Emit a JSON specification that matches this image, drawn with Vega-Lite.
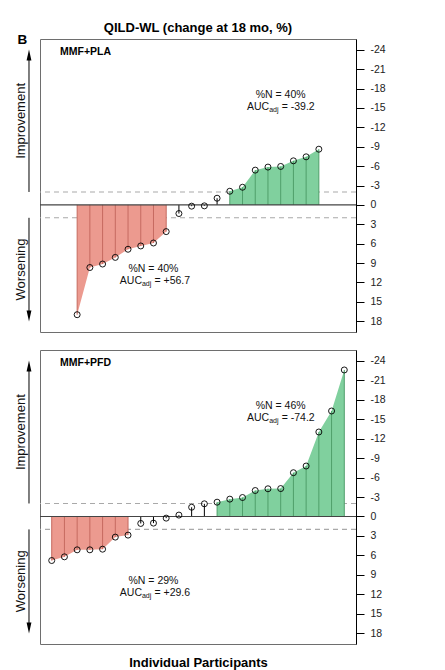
{
  "$schema": "https://vega.github.io/schema/vega-lite/v6.json",
  "padding": {"left": 14, "top": 21, "right": 5, "bottom": 4},
  "background": "white",
  "spacing": 16,
  "datasets": {
    "pts": [
      {"panel": "MMF+PLA", "i": 3, "change": 17.0, "group": "worse"},
      {"panel": "MMF+PLA", "i": 4, "change": 9.7, "group": "worse"},
      {"panel": "MMF+PLA", "i": 5, "change": 9.16, "group": "worse"},
      {"panel": "MMF+PLA", "i": 6, "change": 8.13, "group": "worse"},
      {"panel": "MMF+PLA", "i": 7, "change": 6.87, "group": "worse"},
      {"panel": "MMF+PLA", "i": 8, "change": 6.36, "group": "worse"},
      {"panel": "MMF+PLA", "i": 9, "change": 5.9, "group": "worse"},
      {"panel": "MMF+PLA", "i": 10, "change": 4.14, "group": "worse"},
      {"panel": "MMF+PLA", "i": 11, "change": 1.34, "group": "none"},
      {"panel": "MMF+PLA", "i": 12, "change": 0.2, "group": "none"},
      {"panel": "MMF+PLA", "i": 13, "change": 0.15, "group": "none"},
      {"panel": "MMF+PLA", "i": 14, "change": -1.03, "group": "none"},
      {"panel": "MMF+PLA", "i": 15, "change": -2.11, "group": "better"},
      {"panel": "MMF+PLA", "i": 16, "change": -2.73, "group": "better"},
      {"panel": "MMF+PLA", "i": 17, "change": -5.38, "group": "better"},
      {"panel": "MMF+PLA", "i": 18, "change": -5.85, "group": "better"},
      {"panel": "MMF+PLA", "i": 19, "change": -5.95, "group": "better"},
      {"panel": "MMF+PLA", "i": 20, "change": -6.82, "group": "better"},
      {"panel": "MMF+PLA", "i": 21, "change": -7.44, "group": "better"},
      {"panel": "MMF+PLA", "i": 22, "change": -8.62, "group": "better"},
      {"panel": "MMF+PFD", "i": 1, "change": 6.8, "group": "worse"},
      {"panel": "MMF+PFD", "i": 2, "change": 6.23, "group": "worse"},
      {"panel": "MMF+PFD", "i": 3, "change": 5.15, "group": "worse"},
      {"panel": "MMF+PFD", "i": 4, "change": 5.15, "group": "worse"},
      {"panel": "MMF+PFD", "i": 5, "change": 5.05, "group": "worse"},
      {"panel": "MMF+PFD", "i": 6, "change": 3.19, "group": "worse"},
      {"panel": "MMF+PFD", "i": 7, "change": 2.88, "group": "worse"},
      {"panel": "MMF+PFD", "i": 8, "change": 1.08, "group": "none"},
      {"panel": "MMF+PFD", "i": 9, "change": 1.03, "group": "none"},
      {"panel": "MMF+PFD", "i": 10, "change": 0.26, "group": "none"},
      {"panel": "MMF+PFD", "i": 11, "change": -0.21, "group": "none"},
      {"panel": "MMF+PFD", "i": 12, "change": -1.42, "group": "none"},
      {"panel": "MMF+PFD", "i": 13, "change": -1.95, "group": "none"},
      {"panel": "MMF+PFD", "i": 14, "change": -2.2, "group": "better"},
      {"panel": "MMF+PFD", "i": 15, "change": -2.67, "group": "better"},
      {"panel": "MMF+PFD", "i": 16, "change": -2.92, "group": "better"},
      {"panel": "MMF+PFD", "i": 17, "change": -4.0, "group": "better"},
      {"panel": "MMF+PFD", "i": 18, "change": -4.27, "group": "better"},
      {"panel": "MMF+PFD", "i": 19, "change": -4.3, "group": "better"},
      {"panel": "MMF+PFD", "i": 20, "change": -6.75, "group": "better"},
      {"panel": "MMF+PFD", "i": 21, "change": -7.78, "group": "better"},
      {"panel": "MMF+PFD", "i": 22, "change": -13.03, "group": "better"},
      {"panel": "MMF+PFD", "i": 23, "change": -16.27, "group": "better"},
      {"panel": "MMF+PFD", "i": 24, "change": -22.6, "group": "better"}
    ],
    "notes": [
      {"panel": "MMF+PLA", "i": 19, "ny": -17, "ay": -15.2, "pn": "%N = 40%", "auc": "= -39.2"},
      {"panel": "MMF+PLA", "i": 9, "ny": 10, "ay": 11.8, "pn": "%N = 40%", "auc": "= +56.7"},
      {"panel": "MMF+PFD", "i": 19, "ny": -17, "ay": -15.2, "pn": "%N = 46%", "auc": "= -74.2"},
      {"panel": "MMF+PFD", "i": 9, "ny": 10, "ay": 11.8, "pn": "%N = 29%", "auc": "= +29.6"}
    ],
    "thr": [{"t": -2}, {"t": 2}],
    "arrows": [
      {"dir": "Improvement", "from": -2, "to": -23, "mid": -13},
      {"dir": "Worsening", "from": 2, "to": 17, "mid": 10}
    ]
  },
  "vconcat": [
    {
      "width": 316,
      "height": 293,
      "title": {"text": "QILD-WL (change at 18 mo, %)", "fontSize": 13, "fontWeight": "bold", "anchor": "middle", "frame": "group", "offset": -2, "color": "black"},
      "layer": [
        {
          "data": {"name": "thr"},
          "mark": {"type": "rule", "color": "#a9a9a9", "strokeDash": [5, 4], "strokeWidth": 1.1},
          "encoding": {
            "y": {"field": "t", "type": "quantitative", "scale": {"domain": [-25.68, 19.68], "reverse": true, "nice": false, "zero": false},
              "axis": {"orient": "right", "values": [-24, -21, -18, -15, -12, -9, -6, -3, 0, 3, 6, 9, 12, 15, 18], "title": null}}
          }
        },
        {
          "data": {"name": "pts"},
          "transform": [{"filter": "datum.panel === 'MMF+PLA' && datum.group !== 'none'"}],
          "mark": {"type": "area", "opacity": 1},
          "encoding": {
            "x": {"field": "i", "type": "quantitative", "scale": {"domain": [0.08, 24.92], "nice": false, "zero": false}, "axis": null},
            "y": {"field": "change", "type": "quantitative", "axis": {"orient": "right", "values": [-24, -21, -18, -15, -12, -9, -6, -3, 0, 3, 6, 9, 12, 15, 18], "title": null}},
            "y2": {"datum": 0},
            "fill": {"field": "group", "type": "nominal", "scale": {"domain": ["worse", "better"], "range": ["#ec9a8f", "#80d09e"]}, "legend": null}
          }
        },
        {
          "data": {"name": "pts"},
          "transform": [{"filter": "datum.panel === 'MMF+PLA'"}],
          "mark": {"type": "rule", "strokeWidth": 1},
          "encoding": {
            "x": {"field": "i", "type": "quantitative", "axis": null},
            "y": {"field": "change", "type": "quantitative", "axis": {"orient": "right", "values": [-24, -21, -18, -15, -12, -9, -6, -3, 0, 3, 6, 9, 12, 15, 18], "title": null}},
            "y2": {"datum": 0},
            "stroke": {"field": "group", "type": "nominal", "scale": {"domain": ["worse", "better", "none"], "range": ["#c66a60", "#4f9f6a", "#000000"]}, "legend": null}
          }
        },
        {
          "data": {"values": [{}]},
          "mark": {"type": "rule", "color": "#444444", "strokeWidth": 1.1},
          "encoding": {"y": {"datum": 0, "type": "quantitative", "axis": {"orient": "right", "values": [-24, -21, -18, -15, -12, -9, -6, -3, 0, 3, 6, 9, 12, 15, 18], "title": null}}}
        },
        {
          "data": {"name": "pts"},
          "transform": [{"filter": "datum.panel === 'MMF+PLA'"}],
          "mark": {"type": "point", "shape": "circle", "filled": false, "stroke": "black", "strokeWidth": 0.9, "size": 36, "opacity": 1},
          "encoding": {
            "x": {"field": "i", "type": "quantitative", "axis": null},
            "y": {"field": "change", "type": "quantitative", "axis": {"orient": "right", "values": [-24, -21, -18, -15, -12, -9, -6, -3, 0, 3, 6, 9, 12, 15, 18], "title": null}}
          }
        },
        {
          "data": {"name": "notes"},
          "transform": [{"filter": "datum.panel === 'MMF+PLA'"}],
          "mark": {"type": "text", "fontSize": 10.5, "align": "center", "baseline": "middle", "color": "#111"},
          "encoding": {
            "x": {"field": "i", "type": "quantitative", "axis": null},
            "y": {"field": "ny", "type": "quantitative", "axis": {"orient": "right", "values": [-24, -21, -18, -15, -12, -9, -6, -3, 0, 3, 6, 9, 12, 15, 18], "title": null}},
            "text": {"field": "pn"}
          }
        },
        {
          "data": {"name": "notes"},
          "transform": [{"filter": "datum.panel === 'MMF+PLA'"}],
          "mark": {"type": "text", "text": "AUC", "fontSize": 10.5, "align": "right", "baseline": "middle", "dx": -11.5, "color": "#111"},
          "encoding": {
            "x": {"field": "i", "type": "quantitative", "axis": null},
            "y": {"field": "ay", "type": "quantitative", "axis": {"orient": "right", "values": [-24, -21, -18, -15, -12, -9, -6, -3, 0, 3, 6, 9, 12, 15, 18], "title": null}}
          }
        },
        {
          "data": {"name": "notes"},
          "transform": [{"filter": "datum.panel === 'MMF+PLA'"}],
          "mark": {"type": "text", "text": "adj", "fontSize": 7, "align": "left", "baseline": "middle", "dx": -11.5, "dy": 3, "color": "#111"},
          "encoding": {
            "x": {"field": "i", "type": "quantitative", "axis": null},
            "y": {"field": "ay", "type": "quantitative", "axis": {"orient": "right", "values": [-24, -21, -18, -15, -12, -9, -6, -3, 0, 3, 6, 9, 12, 15, 18], "title": null}}
          }
        },
        {
          "data": {"name": "notes"},
          "transform": [{"filter": "datum.panel === 'MMF+PLA'"}],
          "mark": {"type": "text", "fontSize": 10.5, "align": "left", "baseline": "middle", "dx": 1, "color": "#111"},
          "encoding": {
            "x": {"field": "i", "type": "quantitative", "axis": null},
            "y": {"field": "ay", "type": "quantitative", "axis": {"orient": "right", "values": [-24, -21, -18, -15, -12, -9, -6, -3, 0, 3, 6, 9, 12, 15, 18], "title": null}},
            "text": {"field": "auc"}
          }
        },
        {
          "data": {"values": [{}]},
          "mark": {"type": "text", "text": "MMF+PLA", "fontSize": 10.5, "fontWeight": "bold", "align": "left", "baseline": "middle", "color": "black"},
          "encoding": {
            "x": {"datum": 1.65, "type": "quantitative", "axis": null},
            "y": {"datum": -23.6, "type": "quantitative", "axis": {"orient": "right", "values": [-24, -21, -18, -15, -12, -9, -6, -3, 0, 3, 6, 9, 12, 15, 18], "title": null}}
          }
        },
        {
          "data": {"values": [{}]},
          "mark": {"type": "text", "text": "B", "fontSize": 13.5, "fontWeight": "bold", "align": "center", "baseline": "middle", "color": "black"},
          "encoding": {
            "x": {"datum": -1.3, "type": "quantitative", "axis": null},
            "y": {"datum": -25.45, "type": "quantitative", "axis": {"orient": "right", "values": [-24, -21, -18, -15, -12, -9, -6, -3, 0, 3, 6, 9, 12, 15, 18], "title": null}}
          }
        },
        {
          "data": {"name": "arrows"},
          "mark": {"type": "rule", "color": "black", "strokeWidth": 1},
          "encoding": {
            "x": {"datum": -0.785, "type": "quantitative", "axis": null},
            "y": {"field": "from", "type": "quantitative", "axis": {"orient": "right", "values": [-24, -21, -18, -15, -12, -9, -6, -3, 0, 3, 6, 9, 12, 15, 18], "title": null}},
            "y2": {"field": "to"}
          }
        },
        {
          "data": {"name": "arrows"},
          "mark": {"type": "point", "filled": true, "color": "black", "size": 190, "opacity": 1},
          "encoding": {
            "x": {"datum": -0.785, "type": "quantitative", "axis": null},
            "y": {"field": "to", "type": "quantitative", "axis": {"orient": "right", "values": [-24, -21, -18, -15, -12, -9, -6, -3, 0, 3, 6, 9, 12, 15, 18], "title": null}},
            "shape": {"field": "dir", "type": "nominal", "scale": {"domain": ["Improvement", "Worsening"], "range": ["M0,-1L0.35,0.6L-0.35,0.6Z", "M0,1L0.35,-0.6L-0.35,-0.6Z"]}, "legend": null}
          }
        },
        {
          "data": {"name": "arrows"},
          "mark": {"type": "text", "fontSize": 13, "angle": 270, "align": "center", "baseline": "middle", "color": "#111"},
          "encoding": {
            "x": {"datum": -1.41, "type": "quantitative", "axis": null},
            "y": {"field": "mid", "type": "quantitative", "axis": {"orient": "right", "values": [-24, -21, -18, -15, -12, -9, -6, -3, 0, 3, 6, 9, 12, 15, 18], "title": null}},
            "text": {"field": "dir"}
          }
        }
      ]
    },
    {
      "width": 316,
      "height": 294,
      "layer": [
        {
          "data": {"name": "thr"},
          "mark": {"type": "rule", "color": "#a9a9a9", "strokeDash": [5, 4], "strokeWidth": 1.1},
          "encoding": {
            "y": {"field": "t", "type": "quantitative", "scale": {"domain": [-25.68, 19.68], "reverse": true, "nice": false, "zero": false},
              "axis": {"orient": "right", "values": [-24, -21, -18, -15, -12, -9, -6, -3, 0, 3, 6, 9, 12, 15, 18], "title": null}}
          }
        },
        {
          "data": {"name": "pts"},
          "transform": [{"filter": "datum.panel === 'MMF+PFD' && datum.group !== 'none'"}],
          "mark": {"type": "area", "opacity": 1},
          "encoding": {
            "x": {"field": "i", "type": "quantitative", "scale": {"domain": [0.08, 24.92], "nice": false, "zero": false},
              "axis": {"title": "Individual Participants", "labels": false, "ticks": false, "domain": false, "grid": false, "titleFontSize": 13, "titleFontWeight": "bold", "titlePadding": 12, "titleColor": "black"}},
            "y": {"field": "change", "type": "quantitative", "axis": {"orient": "right", "values": [-24, -21, -18, -15, -12, -9, -6, -3, 0, 3, 6, 9, 12, 15, 18], "title": null}},
            "y2": {"datum": 0},
            "fill": {"field": "group", "type": "nominal", "scale": {"domain": ["worse", "better"], "range": ["#ec9a8f", "#80d09e"]}, "legend": null}
          }
        },
        {
          "data": {"name": "pts"},
          "transform": [{"filter": "datum.panel === 'MMF+PFD'"}],
          "mark": {"type": "rule", "strokeWidth": 1},
          "encoding": {
            "x": {"field": "i", "type": "quantitative"},
            "y": {"field": "change", "type": "quantitative", "axis": {"orient": "right", "values": [-24, -21, -18, -15, -12, -9, -6, -3, 0, 3, 6, 9, 12, 15, 18], "title": null}},
            "y2": {"datum": 0},
            "stroke": {"field": "group", "type": "nominal", "scale": {"domain": ["worse", "better", "none"], "range": ["#c66a60", "#4f9f6a", "#000000"]}, "legend": null}
          }
        },
        {
          "data": {"values": [{}]},
          "mark": {"type": "rule", "color": "#444444", "strokeWidth": 1.1},
          "encoding": {"y": {"datum": 0, "type": "quantitative", "axis": {"orient": "right", "values": [-24, -21, -18, -15, -12, -9, -6, -3, 0, 3, 6, 9, 12, 15, 18], "title": null}}}
        },
        {
          "data": {"name": "pts"},
          "transform": [{"filter": "datum.panel === 'MMF+PFD'"}],
          "mark": {"type": "point", "shape": "circle", "filled": false, "stroke": "black", "strokeWidth": 0.9, "size": 36, "opacity": 1},
          "encoding": {
            "x": {"field": "i", "type": "quantitative"},
            "y": {"field": "change", "type": "quantitative", "axis": {"orient": "right", "values": [-24, -21, -18, -15, -12, -9, -6, -3, 0, 3, 6, 9, 12, 15, 18], "title": null}}
          }
        },
        {
          "data": {"name": "notes"},
          "transform": [{"filter": "datum.panel === 'MMF+PFD'"}],
          "mark": {"type": "text", "fontSize": 10.5, "align": "center", "baseline": "middle", "color": "#111"},
          "encoding": {
            "x": {"field": "i", "type": "quantitative"},
            "y": {"field": "ny", "type": "quantitative", "axis": {"orient": "right", "values": [-24, -21, -18, -15, -12, -9, -6, -3, 0, 3, 6, 9, 12, 15, 18], "title": null}},
            "text": {"field": "pn"}
          }
        },
        {
          "data": {"name": "notes"},
          "transform": [{"filter": "datum.panel === 'MMF+PFD'"}],
          "mark": {"type": "text", "text": "AUC", "fontSize": 10.5, "align": "right", "baseline": "middle", "dx": -11.5, "color": "#111"},
          "encoding": {
            "x": {"field": "i", "type": "quantitative"},
            "y": {"field": "ay", "type": "quantitative", "axis": {"orient": "right", "values": [-24, -21, -18, -15, -12, -9, -6, -3, 0, 3, 6, 9, 12, 15, 18], "title": null}}
          }
        },
        {
          "data": {"name": "notes"},
          "transform": [{"filter": "datum.panel === 'MMF+PFD'"}],
          "mark": {"type": "text", "text": "adj", "fontSize": 7, "align": "left", "baseline": "middle", "dx": -11.5, "dy": 3, "color": "#111"},
          "encoding": {
            "x": {"field": "i", "type": "quantitative"},
            "y": {"field": "ay", "type": "quantitative", "axis": {"orient": "right", "values": [-24, -21, -18, -15, -12, -9, -6, -3, 0, 3, 6, 9, 12, 15, 18], "title": null}}
          }
        },
        {
          "data": {"name": "notes"},
          "transform": [{"filter": "datum.panel === 'MMF+PFD'"}],
          "mark": {"type": "text", "fontSize": 10.5, "align": "left", "baseline": "middle", "dx": 1, "color": "#111"},
          "encoding": {
            "x": {"field": "i", "type": "quantitative"},
            "y": {"field": "ay", "type": "quantitative", "axis": {"orient": "right", "values": [-24, -21, -18, -15, -12, -9, -6, -3, 0, 3, 6, 9, 12, 15, 18], "title": null}},
            "text": {"field": "auc"}
          }
        },
        {
          "data": {"values": [{}]},
          "mark": {"type": "text", "text": "MMF+PFD", "fontSize": 10.5, "fontWeight": "bold", "align": "left", "baseline": "middle", "color": "black"},
          "encoding": {
            "x": {"datum": 1.65, "type": "quantitative"},
            "y": {"datum": -23.6, "type": "quantitative", "axis": {"orient": "right", "values": [-24, -21, -18, -15, -12, -9, -6, -3, 0, 3, 6, 9, 12, 15, 18], "title": null}}
          }
        },
        {
          "data": {"name": "arrows"},
          "mark": {"type": "rule", "color": "black", "strokeWidth": 1},
          "encoding": {
            "x": {"datum": -0.785, "type": "quantitative"},
            "y": {"field": "from", "type": "quantitative", "axis": {"orient": "right", "values": [-24, -21, -18, -15, -12, -9, -6, -3, 0, 3, 6, 9, 12, 15, 18], "title": null}},
            "y2": {"field": "to"}
          }
        },
        {
          "data": {"name": "arrows"},
          "mark": {"type": "point", "filled": true, "color": "black", "size": 190, "opacity": 1},
          "encoding": {
            "x": {"datum": -0.785, "type": "quantitative"},
            "y": {"field": "to", "type": "quantitative", "axis": {"orient": "right", "values": [-24, -21, -18, -15, -12, -9, -6, -3, 0, 3, 6, 9, 12, 15, 18], "title": null}},
            "shape": {"field": "dir", "type": "nominal", "scale": {"domain": ["Improvement", "Worsening"], "range": ["M0,-1L0.35,0.6L-0.35,0.6Z", "M0,1L0.35,-0.6L-0.35,-0.6Z"]}, "legend": null}
          }
        },
        {
          "data": {"name": "arrows"},
          "mark": {"type": "text", "fontSize": 13, "angle": 270, "align": "center", "baseline": "middle", "color": "#111"},
          "encoding": {
            "x": {"datum": -1.41, "type": "quantitative"},
            "y": {"field": "mid", "type": "quantitative", "axis": {"orient": "right", "values": [-24, -21, -18, -15, -12, -9, -6, -3, 0, 3, 6, 9, 12, 15, 18], "title": null}},
            "text": {"field": "dir"}
          }
        }
      ]
    }
  ],
  "config": {
    "font": "Liberation Sans",
    "view": {"stroke": "#6e6e6e", "strokeWidth": 1},
    "axisY": {"tickSize": 8, "tickColor": "black", "domainColor": "black", "labelFontSize": 10.5, "labelColor": "#222", "labelPadding": 6, "grid": false, "labelBaseline": "middle", "labelOverlap": false, "labelExpr": "'' + datum.value"},
    "axisX": {"grid": false}
  }
}
